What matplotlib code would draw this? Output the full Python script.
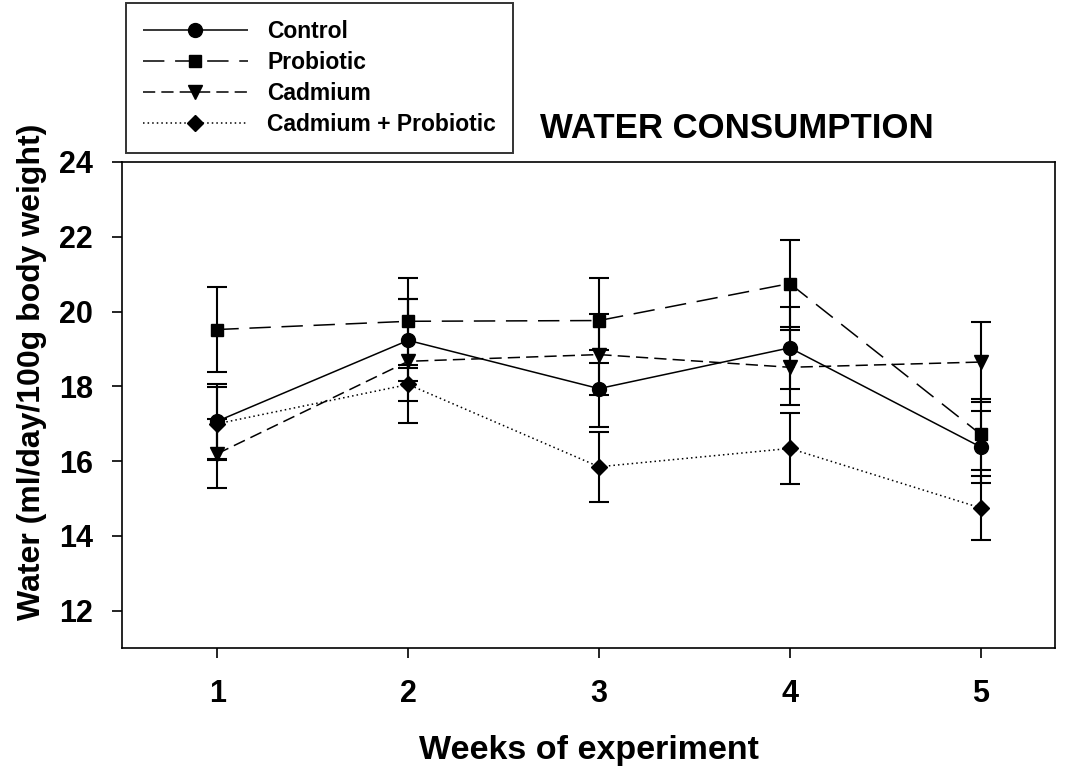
import numpy as np
import matplotlib.pyplot as plt

plt.rcParams['font.family'] = ['Liberation Sans', 'DejaVu Sans']
plt.rcParams['font.weight'] = 'bold'

weeks = [1, 2, 3, 4, 5]

control = [17.07, 19.23, 17.94, 19.03, 16.38]
control_err = [1.00, 1.10, 1.04, 1.09, 0.96]

probiotic = [19.52, 19.74, 19.76, 20.75, 16.72]
probiotic_err = [1.13, 1.16, 1.14, 1.17, 0.95]

cadmium = [16.20, 18.67, 18.85, 18.51, 18.65]
cadmium_err = [0.93, 1.66, 1.09, 1.01, 1.08]

cad_prob = [17.00, 18.05, 15.85, 16.34, 14.75]
cad_prob_err = [0.98, 0.44, 0.93, 0.95, 0.86]

fig = plt.figure(figsize=(10.68, 7.67), dpi=100)
ax = fig.add_axes([0.1142, 0.155, 0.8736, 0.6338])

series = [
    ('Control', control, control_err, 'o', (0, ()), 10),
    ('Probiotic', probiotic, probiotic_err, 's', (0, (14, 7)), 9),
    ('Cadmium', cadmium, cadmium_err, 'v', (0, (8, 4)), 10),
    ('Cadmium + Probiotic', cad_prob, cad_prob_err, 'D', (0, (1, 2)), 8.5),
]

handles = []
for name, vals, err, mk, ls, ms in series:
    ax.errorbar(weeks, vals, yerr=err, fmt='none', ecolor='black',
                elinewidth=1.5, capsize=7, capthick=1.5, zorder=2)
    h, = ax.plot(weeks, vals, color='black', linestyle=ls, linewidth=1.1,
                 marker=mk, markersize=ms, markerfacecolor='black',
                 markeredgecolor='black', label=name, zorder=3)
    handles.append(h)

ax.set_xlim(0.5, 5.39)
ax.set_ylim(11, 24)
ax.set_xticks(weeks)
ax.set_yticks([12, 14, 16, 18, 20, 22, 24])
ax.tick_params(axis='both', direction='out', length=7, width=1.2,
               labelsize=22, pad=14)
ax.tick_params(axis='x', pad=15)
for lab in ax.get_xticklabels() + ax.get_yticklabels():
    lab.set_fontweight('bold')
for sp in ax.spines.values():
    sp.set_linewidth(1.2)

ax.set_xlabel('Weeks of experiment', fontsize=24.5, fontweight='bold', labelpad=19)
ax.set_ylabel('Water (ml/day/100g body weight)', fontsize=23, fontweight='bold')
ax.yaxis.set_label_coords(-0.080, 0.568)

fig.text(0.506, 0.832, 'WATER CONSUMPTION', fontsize=25, fontweight='bold',
         ha='left', va='center')

leg = fig.legend(handles=handles, loc='upper left',
                 bbox_to_anchor=(0.118, 0.996), borderaxespad=0,
                 handlelength=4.6, handletextpad=0.85, labelspacing=0.36,
                 borderpad=0.72, fancybox=False, frameon=True,
                 prop={'weight': 'bold', 'size': 16.5})
leg.get_frame().set_edgecolor('black')
leg.get_frame().set_linewidth(1.4)

fig.savefig('out.png', dpi=100)
